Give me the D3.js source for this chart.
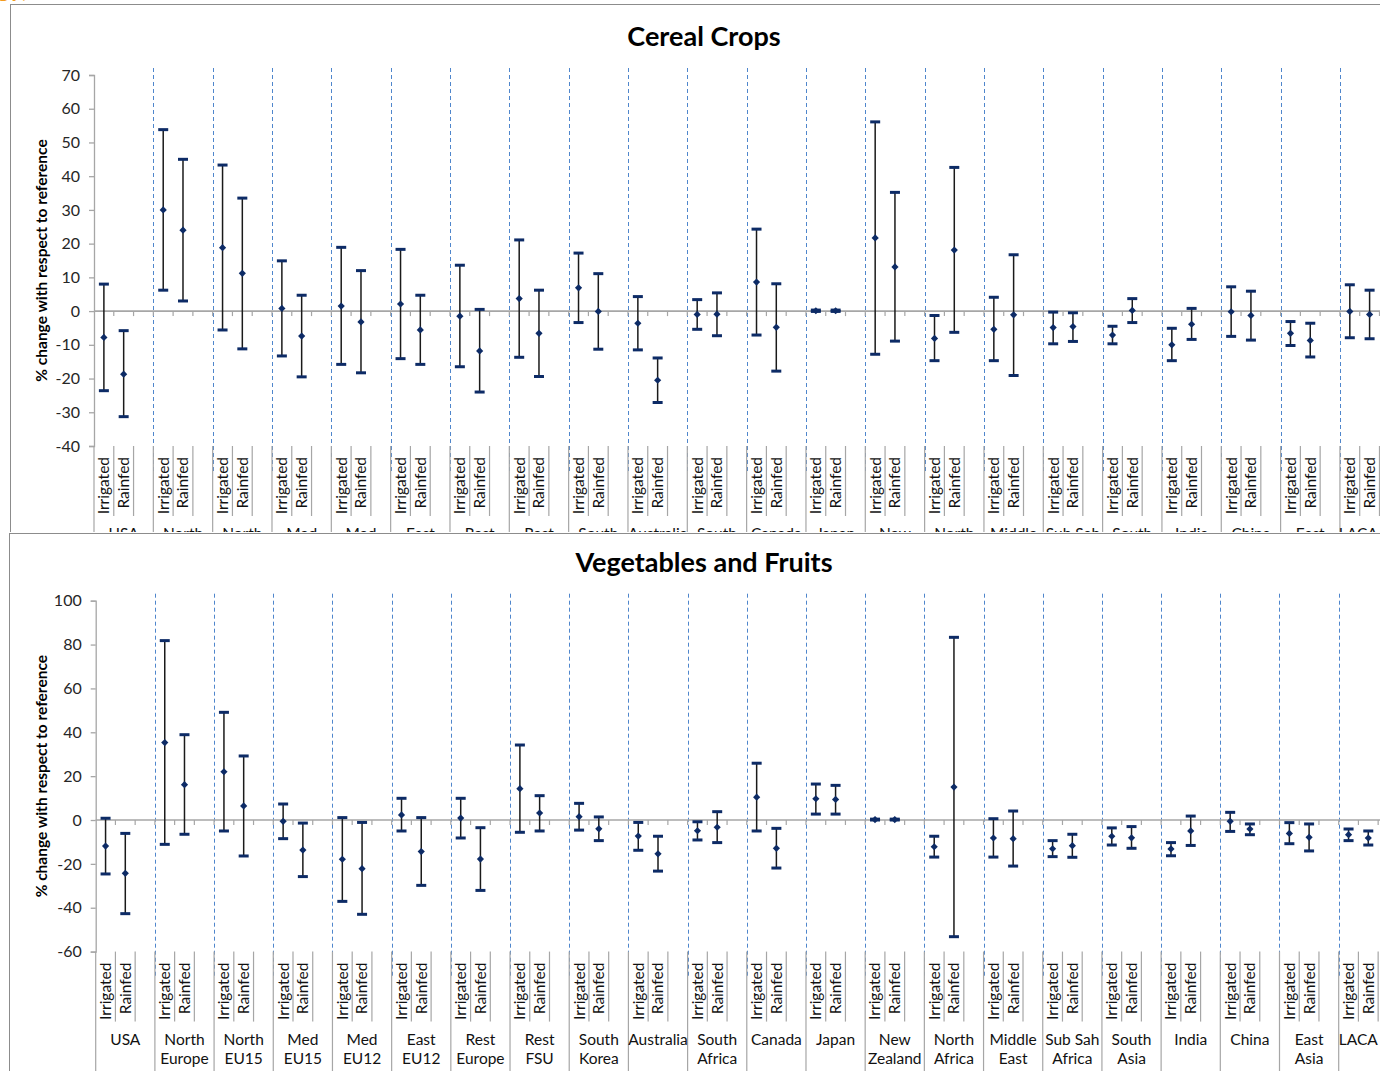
<!DOCTYPE html>
<html>
<head>
<meta charset="utf-8">
<script src="https://cdn.jsdelivr.net/npm/d3@7"></script>
<style>
  body { margin: 0; background: #fff; }
  svg { display: block; font-family: Lato, "Open Sans", sans-serif; }
</style>
</head>
<body>
<svg id="chart" width="1380" height="1071"></svg>
<script>
// Regions along the category axis (line breaks mark two-line labels)
const regions = ["USA", "North\nEurope", "North\nEU15", "Med\nEU15", "Med\nEU12", "East\nEU12",
  "Rest\nEurope", "Rest\nFSU", "South\nKorea", "Australia", "South\nAfrica", "Canada", "Japan",
  "New\nZealand", "North\nAfrica", "Middle\nEast", "Sub Sah\nAfrica", "South\nAsia", "India",
  "China", "East\nAsia", "LACA"];
// Two management systems per region; third slot is an empty spacer
const systems = ["Irrigated", "Rainfed"];

// Cereal crops: % change (order: region by region, Irrigated then Rainfed)
const cerealMean = [-7.8, -18.7, 30.0, 24.0, 18.8, 11.2, 0.8, -7.4, 1.5, -3.2, 2.1, -5.6,
  -1.5, -11.8, 3.7, -6.6, 6.9, -0.1, -3.6, -20.5, -1.0, -0.9, 8.6, -4.8, 0.1, 0.1,
  21.7, 13.1, -8.1, 18.1, -5.4, -1.1, -4.9, -4.6, -7.1, 0.2, -10.0, -3.9, -0.2, -1.3,
  -6.6, -8.7, -0.1, -1.0];
const cerealLow = [-23.6, -31.3, 6.2, 3.0, -5.6, -11.2, -13.3, -19.5, -15.8, -18.3, -14.1, -15.8,
  -16.5, -24.0, -13.7, -19.4, -3.4, -11.3, -11.5, -27.1, -5.4, -7.3, -7.1, -17.8, -0.1, -0.1,
  -12.8, -8.9, -14.7, -6.3, -14.7, -19.1, -9.7, -9.0, -9.7, -3.4, -14.7, -8.4, -7.5, -8.6,
  -10.2, -13.6, -7.9, -8.2];
const cerealHigh = [8.0, -5.8, 53.8, 45.0, 43.3, 33.5, 14.9, 4.7, 18.9, 12.0, 18.3, 4.7,
  13.6, 0.5, 21.1, 6.2, 17.2, 11.1, 4.3, -13.9, 3.4, 5.4, 24.3, 8.1, 0.3, 0.3,
  56.1, 35.2, -1.3, 42.6, 4.1, 16.7, -0.3, -0.5, -4.5, 3.7, -5.1, 0.8, 7.2, 5.9,
  -3.1, -3.6, 7.8, 6.2];
const cerealTicks = [-40, -30, -20, -10, 0, 10, 20, 30, 40, 50, 60, 70];

// Vegetables and fruits: % change
const vegMean = [-11.9, -24.3, 35.3, 16.1, 22.0, 6.4, -0.6, -13.7, -17.9, -22.2, 2.3, -14.4,
  0.9, -17.8, 14.3, 3.2, 1.5, -4.0, -7.3, -15.4, -4.9, -3.3, 10.4, -12.9, 9.7, 9.4,
  0.2, 0.2, -12.2, 15.0, -8.2, -8.5, -13.1, -11.7, -7.4, -8.1, -13.2, -5.0, -0.6, -4.1,
  -6.1, -7.9, -6.7, -8.2];
const vegLow = [-24.6, -42.7, -11.1, -6.5, -5.0, -16.4, -8.5, -25.8, -37.1, -43.0, -5.0, -29.8,
  -8.2, -32.1, -5.6, -5.0, -4.6, -9.4, -13.8, -23.3, -9.1, -10.3, -5.0, -21.9, 2.7, 2.7,
  0.0, 0.0, -16.9, -53.2, -16.9, -21.0, -16.7, -17.0, -11.4, -12.9, -16.3, -11.6, -5.2, -6.7,
  -10.8, -14.1, -9.4, -11.4];
const vegHigh = [0.8, -6.1, 81.8, 38.9, 49.1, 29.2, 7.3, -1.4, 1.1, -1.1, 9.9, 1.1,
  9.9, -3.5, 34.2, 11.1, 7.6, 1.4, -1.1, -7.4, -0.8, 3.8, 25.9, -3.8, 16.4, 15.8,
  0.4, 0.4, -7.4, 83.3, 0.6, 4.1, -9.4, -6.5, -3.6, -3.0, -10.3, 1.8, 3.5, -1.8,
  -1.2, -1.8, -4.1, -5.0];
const vegTicks = [-60, -40, -20, 0, 20, 40, 60, 80, 100];

const yTitle = "% change with respect to reference";

const svg = d3.select("#chart");
const W = 1380;

const panels = [
  { id: "cereal", title: "Cereal Crops", mean: cerealMean, low: cerealLow, high: cerealHigh, ticks: cerealTicks,
    box: { x: 10, y: 4, h: 528 }, left: 94, top: 75, bottom: 446, catW: 59.33, titleY: 37, regionLines: 1 },
  { id: "veg", title: "Vegetables and Fruits", mean: vegMean, low: vegLow, high: vegHigh, ticks: vegTicks,
    box: { x: 9, y: 533, h: 700 }, left: 95.7, top: 600.7, bottom: 951.6, catW: 59.19, titleY: 563, regionLines: 2 }
];

// Fragment of the page heading above the first panel
svg.append("text").attr("x", -3).attr("y", -3)
  .attr("font-size", 24).attr("font-weight", "bold").attr("fill", "#F39C1E").text("gy)");

const AXIS = "#a6a6a6";
const NAVY = "#0d2b66";
const defs = svg.append("defs");

panels.forEach(p => {
  defs.append("clipPath").attr("id", "clip-" + p.id).append("rect")
    .attr("x", p.box.x).attr("y", p.box.y).attr("width", 3000).attr("height", p.box.h);
  const g = svg.append("g").attr("clip-path", `url(#clip-${p.id})`);

  // chart frame
  g.append("rect").attr("x", p.box.x + 0.5).attr("y", p.box.y + 0.5)
    .attr("width", 3000).attr("height", p.box.h + 20)
    .attr("fill", "#fff").attr("stroke", "#8c8c8c").attr("stroke-width", 1);

  g.append("text").attr("x", 704).attr("y", p.titleY).attr("dy", "0.35em")
    .attr("text-anchor", "middle").attr("font-size", 27).attr("font-weight", "bold")
    .attr("fill", "#000").text(p.title);

  const x = d3.scaleBand().domain(regions).range([p.left, p.left + p.catW * regions.length]);
  const slot = d3.scaleBand().domain([...systems, "spacer"]).range([0, x.bandwidth()]);
  const y = d3.scaleLinear().domain(d3.extent(p.ticks)).range([p.bottom, p.top]);
  const y0 = y(0), yMin = y.range()[0], yMax = y.range()[1];
  const frameBottom = p.box.y + p.box.h;

  // dashed region separators
  g.append("g").selectAll("line").data(regions.slice(1)).join("line")
    .attr("x1", d => Math.round(x(d)) + 0.5).attr("x2", d => Math.round(x(d)) + 0.5)
    .attr("y1", yMax - 7).attr("y2", yMin + 25)
    .attr("stroke", "#4f86cc").attr("stroke-width", 1).attr("stroke-dasharray", "4,3");

  // y axis (plain hyphen for negative labels)
  const yAxis = d3.axisLeft(y).tickValues(p.ticks).tickFormat(d => String(d)).tickSize(5).tickPadding(9);
  const ya = g.append("g").attr("transform", `translate(${p.left},0)`).call(yAxis);
  ya.select(".domain").attr("stroke", AXIS).attr("stroke-width", 1.3);
  ya.selectAll(".tick line").attr("stroke", AXIS).attr("stroke-width", 1.3);
  ya.selectAll(".tick text").attr("font-size", 16).attr("fill", "#262626")
    .attr("font-family", "Lato, 'Open Sans', sans-serif");

  // axis title
  g.append("text")
    .attr("transform", `translate(42,${(yMin + yMax) / 2}) rotate(-90)`)
    .attr("text-anchor", "middle").attr("dy", "0.35em")
    .attr("font-size", 15.5).attr("font-weight", "bold").attr("fill", "#000").text(yTitle);

  // category axis at zero with slot ticks
  const xEnd = x.range()[1];
  g.append("line").attr("x1", p.left).attr("x2", xEnd).attr("y1", y0).attr("y2", y0)
    .attr("stroke", AXIS).attr("stroke-width", 1.6);
  const slotEdges = [];
  regions.forEach(r => {
    slot.domain().forEach((s, i) => { if (i > 0) slotEdges.push(x(r) + slot(s)); });
    slotEdges.push(x(r) + x.bandwidth());
  });
  g.append("g").selectAll("line").data(slotEdges).join("line")
    .attr("x1", d => d).attr("x2", d => d).attr("y1", y0).attr("y2", y0 + 5)
    .attr("stroke", AXIS).attr("stroke-width", 1.2);

  // label area: leaf separators and region separators
  const leafEdges = [];
  regions.forEach(r => systems.forEach(s => leafEdges.push(x(r) + slot(s) + slot.bandwidth())));
  g.append("g").selectAll("line").data(leafEdges).join("line")
    .attr("x1", d => d).attr("x2", d => d).attr("y1", yMin).attr("y2", yMin + 70)
    .attr("stroke", AXIS).attr("stroke-width", 1.2);
  g.append("g").selectAll("line").data([...regions.map(r => x(r)), xEnd]).join("line")
    .attr("x1", d => d).attr("x2", d => d).attr("y1", yMin).attr("y2", frameBottom + 20)
    .attr("stroke", AXIS).attr("stroke-width", 1.2);

  // system labels
  const leaves = regions.flatMap(r => systems.map(s => ({ r, s })));
  g.append("g").selectAll("text").data(leaves).join("text")
    .attr("transform", d => `translate(${x(d.r) + slot(d.s) + slot.bandwidth() / 2},${yMin + 11}) rotate(-90)`)
    .attr("text-anchor", "end").attr("dy", "0.35em")
    .attr("font-size", 15.5).attr("fill", "#111").text(d => d.s);

  // region labels (kept inside the visible width)
  const rl = g.append("g").selectAll("text").data(regions).join("text")
    .attr("y", yMin + 88)
    .attr("text-anchor", "middle")
    .attr("font-size", 15.5).attr("fill", "#111");
  rl.each(function (d) {
    const t = d3.select(this);
    d.split("\n").slice(0, p.regionLines).forEach((line, i) => {
      t.append("tspan").attr("dy", i === 0 ? "0.35em" : "19px").text(line);
    });
    const half = this.getBBox().width / 2;
    const cxr = Math.min(x(d) + x.bandwidth() / 2, W - 2 - half);
    t.selectAll("tspan").attr("x", cxr);
  });

  // error bars and means
  const pts = leaves.map((d, i) => ({ ...d, m: p.mean[i], lo: p.low[i], hi: p.high[i] }));
  const cx = d => x(d.r) + slot(d.s) + slot.bandwidth() / 2;
  const eb = g.append("g").selectAll("g").data(pts).join("g");
  eb.append("line").attr("x1", cx).attr("x2", cx)
    .attr("y1", d => y(d.lo)).attr("y2", d => y(d.hi))
    .attr("stroke", "#1a1a1a").attr("stroke-width", 1.5);
  ["lo", "hi"].forEach(k => {
    eb.append("line").attr("x1", d => cx(d) - 5).attr("x2", d => cx(d) + 5)
      .attr("y1", d => y(d[k])).attr("y2", d => y(d[k]))
      .attr("stroke", NAVY).attr("stroke-width", 3);
  });
  eb.append("path").attr("d", d3.symbol(d3.symbolSquare, 26))
    .attr("transform", d => `translate(${cx(d)},${y(d.m)}) rotate(45)`)
    .attr("fill", NAVY);
});
</script>
</body>
</html>
